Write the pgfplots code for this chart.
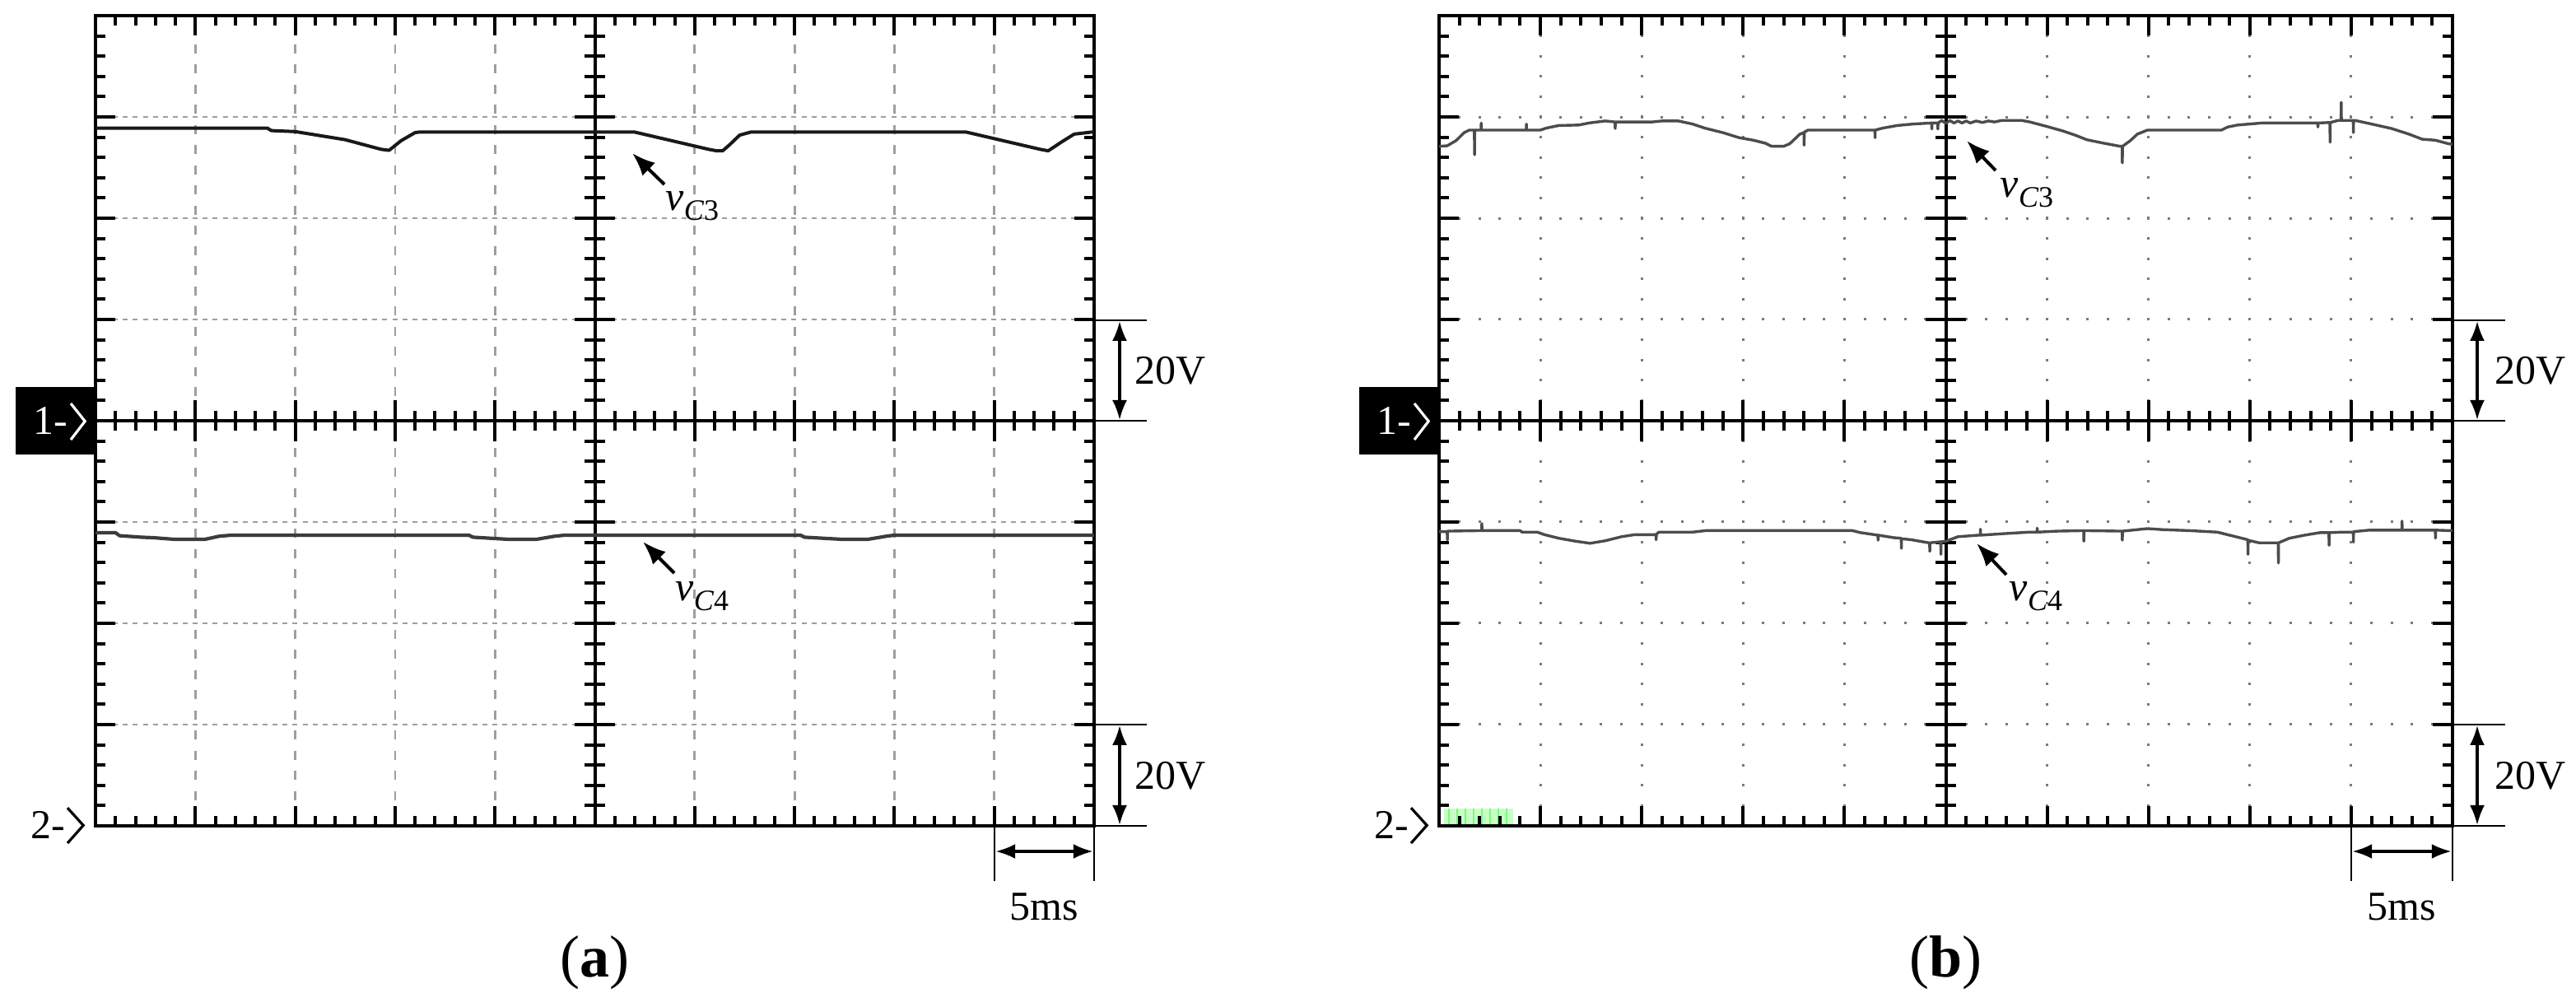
\documentclass[border=0pt]{standalone}
\usepackage{fontspec}
\setmainfont{Liberation Serif}
\usepackage{pgfplots}
\pgfplotsset{compat=1.18}
\usetikzlibrary{arrows.meta}

\definecolor{gridA}{gray}{0.62}
\definecolor{gridB}{gray}{0.48}
\definecolor{traceA}{gray}{0.1}
\definecolor{traceB}{gray}{0.3}

\pgfplotsset{
  scope frame/.style={
    scale only axis, height=246pt, anchor=south west,
    xmin=-5,xmax=5,ymin=-4,ymax=4,
    xtick={-5,...,5}, ytick={-4,...,4},
    minor x tick num=4, minor y tick num=4,
    xticklabels={}, yticklabels={},
    tick align=inside,
    major tick length=6.1pt, minor tick length=3.05pt,
    tick style={black, line width=1pt},
    axis line style={black, line width=1.2pt},
    grid=major,
  },
  data axis/.style={
    scale only axis, height=246pt, anchor=south west,
    hide axis, xmin=0, xmax=50, clip=true,
  },
}

% centre cross of a screen: cx, cy, div-x, div-y (all in pt)
\newcommand\centercross[4]{%
  \begin{scope}[shift={(#1pt,#2pt)}, x=#3pt, y=#4pt, line width=1pt, black]
    \draw (-5,0) -- (5,0);
    \draw (0,-4) -- (0,4);
    \foreach \i in {-25,...,25}{%
      \pgfmathsetmacro\L{ifthenelse(mod(\i,5)==0,0.2,0.1)}%
      \draw (\i/5,-\L) -- (\i/5,\L);}
    \foreach \i in {-20,...,20}{%
      \pgfmathsetmacro\L{ifthenelse(mod(\i,5)==0,0.2,0.1)}%
      \draw (-\L,\i/5) -- (\L,\i/5);}
  \end{scope}}

\newcommand\vlab[2]{{\itshape #1}\raisebox{-3pt}{\fontsize{9}{10}\selectfont\itshape C\upshape #2}}

\begin{document}
\begin{tikzpicture}[every node/.style={font=\fontsize{12.5}{15}\selectfont, inner sep=0pt}]
\useasboundingbox (0,0) rectangle (782.25pt,305.5pt);

% green artefact in panel (b)
\fill[green!22] (438.5pt,55.25pt) rectangle (459.5pt,60pt);
\foreach \g in {440,442.5,445,447.5,450,452.5,455,457.5}
  \draw[green!55, line width=0.6pt] (\g pt,55.25pt) -- (\g pt,60pt);

% ---------------- panel (a) ----------------
\begin{axis}[scope frame, width=303.25pt, at={(29pt,54.75pt)},
  major x grid style={gridA, line width=0.7pt, dash pattern=on 2.75pt off 3.38pt, dash phase=4.45pt},
  major y grid style={gridA, line width=0.7pt, dash pattern=on 1.5pt off 1.53pt, dash phase=0.75pt}]
\end{axis}
\centercross{180.625}{177.75}{30.325}{30.75}

\begin{axis}[data axis, width=303.25pt, at={(29pt,54.75pt)}, ymin=-80, ymax=80]
\addplot[traceA, line width=1pt, line join=round] coordinates {
(0,57.8) (8.6,57.8) (8.8,57.3) (10.0,57.1) (12.5,55.5) (14.3,53.6) (14.7,53.4)
(15.3,55.3) (16.0,56.9) (16.2,57.0) (27.0,57.0) (30.05,54.2) (30.7,53.6) (31.1,53.3)
(31.4,53.3) (31.75,54.5) (32.25,56.4) (32.8,57.0) (43.6,57.0) (47.3,53.6) (47.7,53.3)
(48.35,55.0) (49.0,56.6) (49.85,57.0) (50,57.0)};
\end{axis}
\begin{axis}[data axis, width=303.25pt, at={(29pt,54.75pt)}, ymin=0, ymax=160]
\addplot[traceA!85, line width=1.05pt, line join=round] coordinates {
(0,57.9) (1.0,57.9) (1.2,57.3) (2.3,57.0) (2.9,56.9) (3.9,56.6) (5.5,56.6) (6.2,57.2)
(6.8,57.4) (18.7,57.4) (18.9,57.0) (20.6,56.6) (22.1,56.6) (23.0,57.2) (23.5,57.4)
(35.3,57.4) (35.5,57.0) (37.3,56.6) (38.7,56.6) (39.6,57.2) (40.0,57.4) (50,57.4)};
\end{axis}

% ---------------- panel (b) ----------------
\begin{axis}[scope frame, width=307.75pt, at={(437pt,54.75pt)},
  major x grid style={gridB, line width=0.75pt, dash pattern=on 0.75pt off 5.4pt, dash phase=0.375pt},
  major y grid style={gridB, line width=0.75pt, dash pattern=on 0.75pt off 5.405pt, dash phase=0.375pt}]
\end{axis}
\centercross{590.875}{177.75}{30.775}{30.75}

\begin{axis}[data axis, width=307.75pt, at={(437pt,54.75pt)}, ymin=-80, ymax=80]
\addplot[traceB, line width=0.85pt, line join=round] coordinates {
(0,54.2) (0.4,54.3) (0.83,55.3) (1.24,56.9) (1.49,57.4) (1.74,57.4) (1.75,52.5) (1.76,57.4)
(2.07,57.4) (2.08,58.8) (2.09,57.4) (4.3,57.4) (4.31,58.6) (4.32,57.4) (5.0,57.4)
(5.3,57.8) (5.9,58.3) (6.9,58.4) (7.4,58.8) (8.2,59.2) (8.68,59.0) (8.69,57.7) (8.7,59.0)
(10.5,59.0) (11.0,59.2) (11.8,59.2) (12.5,58.6) (13.1,57.8) (14.0,56.9) (14.8,55.9)
(15.5,55.4) (16.1,54.8) (16.4,54.2) (17.0,54.2) (17.3,54.7) (17.8,56.6) (18.0,56.9)
(18.01,54.4) (18.02,57.0) (18.2,57.4) (21.5,57.4) (21.51,55.9) (21.52,57.4) (21.9,57.8)
(22.6,58.3) (23.4,58.6) (24.3,58.8) (24.31,57.6) (24.32,58.8) (24.6,58.8) (24.61,57.6)
(24.62,58.8) (24.8,59.3) (25.0,58.7) (25.2,59.3) (25.4,58.8) (25.6,59.2) (25.8,58.8)
(26.0,59.2) (26.2,58.8) (26.5,59.2) (26.8,58.9) (27.1,59.2) (27.4,59.0) (27.75,59.3)
(28.75,59.3) (29.15,59.0) (30.0,58.1) (30.8,57.2) (31.45,56.3) (31.95,55.5) (32.8,54.8)
(33.6,54.2) (33.7,54.2) (33.71,50.9) (33.72,54.2) (34.1,55.3) (34.45,56.6) (34.95,57.4)
(38.6,57.4) (38.9,58.0) (39.4,58.4) (40.6,58.8) (43.35,58.8) (43.36,58.0) (43.37,58.8)
(43.95,58.9) (43.96,55.0) (43.97,58.9) (44.35,59.3) (44.5,59.3) (44.51,62.9) (44.52,59.3)
(45.1,59.3) (45.11,56.9) (45.12,59.3) (45.2,59.3) (46.0,58.6) (47.0,57.7) (47.85,56.6)
(48.5,55.6) (49.15,55.4) (49.8,54.7) (50,54.6)};
\end{axis}
\begin{axis}[data axis, width=307.75pt, at={(437pt,54.75pt)}, ymin=0, ymax=160]
\addplot[traceB, line width=0.85pt, line join=round] coordinates {
(0,58.1) (0.4,58.1) (0.41,56.5) (0.42,58.2) (2.1,58.3) (2.11,59.7) (2.12,58.3) (4.0,58.3)
(4.1,58.0) (4.85,58.0) (5.2,57.5) (5.9,56.8) (6.75,56.2) (7.45,55.8) (8.2,56.3) (9.0,57.1)
(9.65,57.5) (10.7,57.5) (10.71,56.5) (10.72,57.6) (10.85,58.0) (12.5,58.0) (13.15,58.3)
(20.4,58.3) (20.8,57.9) (21.65,57.4) (21.66,56.4) (21.67,57.4) (22.45,56.9) (22.8,56.8)
(22.81,54.8) (22.82,56.7) (23.3,56.5) (24.15,55.9) (24.2,55.9) (24.21,54.2) (24.22,55.9)
(24.75,56.1) (24.76,53.6) (24.77,56.1) (25.0,56.2) (25.6,57.1) (26.6,57.4) (26.7,57.4)
(26.71,58.6) (26.72,57.4) (27.85,57.7) (29.1,58.0) (29.5,58.0) (29.51,58.8) (29.52,58.0)
(30.5,58.2) (31.8,58.3) (31.81,56.2) (31.82,58.3) (33.7,58.2) (33.71,56.4) (33.72,58.2)
(34.95,58.7) (35.7,58.5) (37.05,58.3) (38.4,58.0) (39.3,57.1) (39.9,56.5) (39.91,53.6)
(39.92,56.4) (40.45,55.9) (41.4,55.9) (41.41,51.9) (41.42,55.9) (41.95,56.8) (42.7,57.4)
(43.45,57.9) (43.9,57.9) (43.91,55.4) (43.92,57.9) (44.55,58.0) (45.1,58.0) (45.11,56.0)
(45.12,58.1) (45.9,58.4) (47.5,58.4) (47.51,60.2) (47.52,58.4) (49.15,58.4) (49.16,56.8)
(49.17,58.4) (49.9,58.3) (50,58.3)};
\end{axis}

% ---------------- annotations (both panels) ----------------
\foreach \sx/\fx/\ax/\tx/\lx/\lxa/\lxb/\cx/\lab in
   {0/332.25/340/344.5/302/317.1/332.25/180.6/a, 408/744.75/752.25/757.5/714/729.4/744.75/590.9/b}{
  % channel markers
  \fill[black] (4.75pt+\sx pt,167.5pt) rectangle (29pt+\sx pt,188pt);
  \node[anchor=base west, white] at (10pt+\sx pt,173.5pt) {1-};
  \draw[white, line width=0.8pt] (21.5pt+\sx pt,183pt) -- (25.8pt+\sx pt,177.6pt) -- (21.5pt+\sx pt,172pt);
  \node[anchor=base west] at (9.25pt+\sx pt,50.75pt) {2-};
  \draw[black, line width=0.8pt] (20.5pt+\sx pt,60.2pt) -- (25.3pt+\sx pt,54.9pt) -- (20.5pt+\sx pt,49.5pt);
  % 20V scale marks
  \draw[line width=0.5pt] (\fx pt,208.25pt) -- (\fx pt+16pt,208.25pt);
  \draw[line width=0.5pt] (\fx pt,177.75pt) -- (\fx pt+16pt,177.75pt);
  \draw[line width=0.5pt] (\fx pt,85.5pt) -- (\fx pt+16pt,85.5pt);
  \draw[line width=0.5pt] (\fx pt,54.75pt) -- (\fx pt+16pt,54.75pt);
  \draw[line width=0.8pt, {Latex[length=6pt,width=4.5pt]}-{Latex[length=6pt,width=4.5pt]}] (\ax pt,208pt) -- (\ax pt,178pt);
  \draw[line width=0.8pt, {Latex[length=6pt,width=4.5pt]}-{Latex[length=6pt,width=4.5pt]}] (\ax pt,85.25pt) -- (\ax pt,55pt);
  \node[anchor=base west] at (\tx pt,188.75pt) {20V};
  \node[anchor=base west] at (\tx pt,66pt) {20V};
  % 5ms scale mark
  \draw[line width=0.5pt] (\lx pt,54.75pt) -- (\lx pt,38pt);
  \draw[line width=0.5pt] (\lxb pt,54.75pt) -- (\lxb pt,38pt);
  \draw[line width=0.9pt, {Latex[length=6pt,width=4.5pt]}-{Latex[length=6pt,width=4.5pt]}] (\lx pt+0.3pt,47pt) -- (\lxb pt-0.3pt,47pt);
  \node[anchor=base] at (\lxa pt,26.25pt) {5ms};
  % caption
  \node[anchor=base, font=\fontsize{18}{20}\selectfont] at (\cx pt,9pt) {(\textbf{\lab})};
}

% trace labels
\draw[line width=1pt, -{Latex[length=7pt,width=5.5pt]}] (201.75pt,249.5pt) -- (192pt,259pt);
\node[anchor=base west] at (202pt,241.5pt) {\vlab{v}{3}};
\draw[line width=1pt, -{Latex[length=7pt,width=5.5pt]}] (204.75pt,131.5pt) -- (195.25pt,141pt);
\node[anchor=base west] at (205pt,123pt) {\vlab{v}{4}};
\draw[line width=1pt, -{Latex[length=7pt,width=5.5pt]}] (606pt,253.75pt) -- (597.25pt,262.75pt);
\node[anchor=base west] at (607.25pt,245.5pt) {\vlab{v}{3}};
\draw[line width=1pt, -{Latex[length=7pt,width=5.5pt]}] (609.25pt,131pt) -- (600.25pt,140.5pt);
\node[anchor=base west] at (610pt,123pt) {\vlab{v}{4}};
\end{tikzpicture}
\end{document}
